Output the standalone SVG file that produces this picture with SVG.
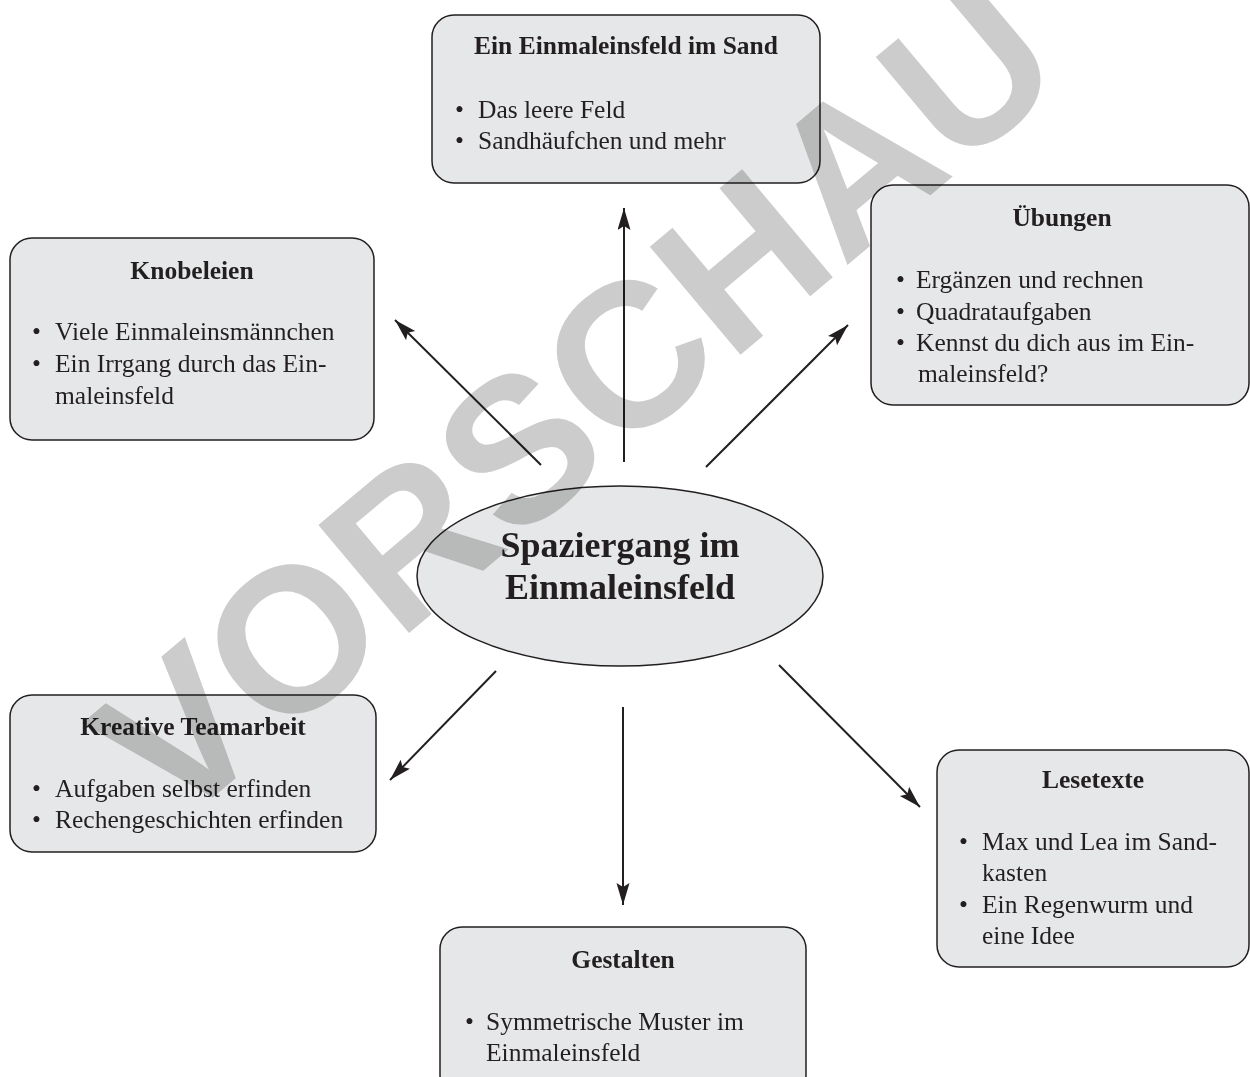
<svg xmlns="http://www.w3.org/2000/svg" width="1250" height="1077" viewBox="0 0 1250 1077">
<defs>
<style>
.box{fill:#e6e7e8;stroke:#231f20;stroke-width:1.5}
.t{font-family:"Liberation Serif","Times New Roman",serif;font-size:25.5px;fill:#231f20}
.h{font-family:"Liberation Serif","Times New Roman",serif;font-size:25.5px;font-weight:bold;fill:#231f20;text-anchor:middle}
.c{font-family:"Liberation Serif","Times New Roman",serif;font-size:36px;font-weight:bold;fill:#231f20;text-anchor:middle}
.conn{stroke:#231f20;stroke-width:2;fill:none;marker-end:url(#ah)}
.wm{font-family:"Liberation Sans",Arial,sans-serif;font-weight:bold;font-size:205px;fill:#cccccc;text-anchor:middle;mix-blend-mode:multiply}
</style>
<marker id="ah" markerUnits="userSpaceOnUse" markerWidth="24" markerHeight="14" refX="22" refY="6.5" orient="auto">
<path d="M0,0 L22,6.5 L0,13 L4,6.5 Z" fill="#231f20"/>
</marker>
</defs>
<rect width="1250" height="1077" fill="#ffffff"/>
<g id="connectors">
<line class="conn" x1="624" y1="462" x2="624" y2="208"/>
<line class="conn" x1="541" y1="465" x2="395" y2="320"/>
<line class="conn" x1="706" y1="467" x2="848" y2="325"/>
<line class="conn" x1="496" y1="671" x2="390" y2="780"/>
<line class="conn" x1="623" y1="707" x2="623" y2="905"/>
<line class="conn" x1="779" y1="665" x2="920" y2="807"/>
</g>
<g id="center">
<ellipse class="box" cx="620" cy="576" rx="203" ry="90"/>
<text class="c" x="620" y="557">Spaziergang im</text>
<text class="c" x="620" y="599">Einmaleinsfeld</text>
</g>
<g id="sand">
<rect class="box" x="432" y="15" width="388" height="168" rx="22"/>
<text class="h" x="626" y="54">Ein Einmaleinsfeld im Sand</text>
<text class="t" x="455" y="118">•</text><text class="t" x="478" y="118">Das leere Feld</text>
<text class="t" x="455" y="149">•</text><text class="t" x="478" y="149">Sandhäufchen und mehr</text>
</g>
<g id="knobeleien">
<rect class="box" x="10" y="238" width="364" height="202" rx="22"/>
<text class="h" x="192" y="279">Knobeleien</text>
<text class="t" x="32" y="340">•</text><text class="t" x="55" y="340">Viele Einmaleinsmännchen</text>
<text class="t" x="32" y="372">•</text><text class="t" x="55" y="372">Ein Irrgang durch das Ein-</text>
<text class="t" x="55" y="404">maleinsfeld</text>
</g>
<g id="uebungen">
<rect class="box" x="871" y="185" width="378" height="220" rx="22"/>
<text class="h" x="1062" y="226">Übungen</text>
<text class="t" x="896" y="288">•</text><text class="t" x="916" y="288">Ergänzen und rechnen</text>
<text class="t" x="896" y="320">•</text><text class="t" x="916" y="320">Quadrataufgaben</text>
<text class="t" x="896" y="351">•</text><text class="t" x="916" y="351">Kennst du dich aus im Ein-</text>
<text class="t" x="918" y="382">maleinsfeld?</text>
</g>
<g id="teamarbeit">
<rect class="box" x="10" y="695" width="366" height="157" rx="22"/>
<text class="h" x="193" y="735">Kreative Teamarbeit</text>
<text class="t" x="32" y="797">•</text><text class="t" x="55" y="797">Aufgaben selbst erfinden</text>
<text class="t" x="32" y="828">•</text><text class="t" x="55" y="828">Rechengeschichten erfinden</text>
</g>
<g id="lesetexte">
<rect class="box" x="937" y="750" width="312" height="217" rx="22"/>
<text class="h" x="1093" y="788">Lesetexte</text>
<text class="t" x="959" y="850">•</text><text class="t" x="982" y="850">Max und Lea im Sand-</text>
<text class="t" x="982" y="881">kasten</text>
<text class="t" x="959" y="913">•</text><text class="t" x="982" y="913">Ein Regenwurm und</text>
<text class="t" x="982" y="944">eine Idee</text>
</g>
<g id="gestalten">
<rect class="box" x="440" y="927" width="366" height="170" rx="22"/>
<text class="h" x="623" y="968">Gestalten</text>
<text class="t" x="465" y="1030">•</text><text class="t" x="486" y="1030">Symmetrische Muster im</text>
<text class="t" x="486" y="1061">Einmaleinsfeld</text>
</g>
<text class="wm" x="621" y="455" transform="rotate(-40 621 455)">VORSCHAU</text>
</svg>
